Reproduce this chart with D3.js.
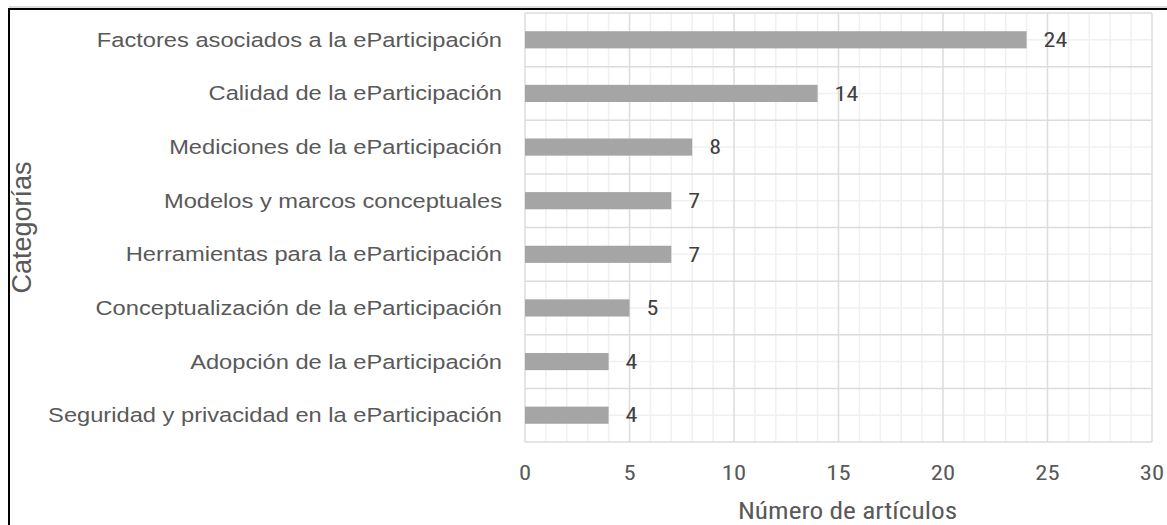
<!DOCTYPE html>
<html>
<head>
<meta charset="utf-8">
<script src="https://cdn.jsdelivr.net/npm/d3@7"></script>
<style>
  html, body { margin: 0; padding: 0; background: #fff; }
  svg { display: block; }
</style>
</head>
<body>
<svg id="chart" width="1167" height="525"></svg>
<script>
const categories = [
  "Factores asociados a la eParticipación",
  "Calidad de la eParticipación",
  "Mediciones de la eParticipación",
  "Modelos y marcos conceptuales",
  "Herramientas para la eParticipación",
  "Conceptualización de la eParticipación",
  "Adopción de la eParticipación",
  "Seguridad y privacidad en la eParticipación"
];
const values = [24, 14, 8, 7, 7, 5, 4, 4];
const xTicks = [0, 5, 10, 15, 20, 25, 30];
const xTitle = "Número de artículos";
const yTitle = "Categorías";

const svg = d3.select("#chart");
const W = 1167, H = 525;
const plot = { left: 525, right: 1152, top: 13, bottom: 442 };
const NUM_FONT = "'Liberation Sans Narrow', 'Roboto Condensed', 'Liberation Sans', sans-serif";
const LBL_FONT = "'Liberation Sans', Arial, sans-serif";
const SX = 1.19; // horizontal stretch of the reference text

// outer frame (left + top visible)
svg.append("line").attr("x1", 9).attr("x2", W + 5).attr("y1", 7).attr("y2", 7)
  .attr("stroke", "#bbb").attr("stroke-width", 1);
svg.append("rect").attr("x", 9).attr("y", 9).attr("width", W + 20).attr("height", H + 20)
  .attr("fill", "none").attr("stroke", "#000").attr("stroke-width", 2);

const x = d3.scaleLinear().domain([0, 30]).range([plot.left, plot.right]);
const y = d3.scaleBand().domain(categories).range([plot.top, plot.bottom]).paddingInner(0).paddingOuter(0);
const barPad = 0.68;

const g = svg.append("g");

// minor vertical gridlines (every 1)
g.append("g").selectAll("line").data(d3.range(0, 31, 1).filter(v => v % 5 !== 0))
  .join("line")
  .attr("x1", d => x(d)).attr("x2", d => x(d))
  .attr("y1", plot.top).attr("y2", plot.bottom)
  .attr("stroke", "#f0f0f0").attr("stroke-width", 1.5);

// minor horizontal gridlines (category centers)
g.append("g").selectAll("line").data(categories)
  .join("line")
  .attr("x1", plot.left).attr("x2", plot.right)
  .attr("y1", d => y(d) + y.bandwidth() / 2).attr("y2", d => y(d) + y.bandwidth() / 2)
  .attr("stroke", "#f0f0f0").attr("stroke-width", 1.5);

// major vertical gridlines
g.append("g").selectAll("line").data(xTicks)
  .join("line")
  .attr("x1", d => x(d)).attr("x2", d => x(d))
  .attr("y1", plot.top).attr("y2", plot.bottom)
  .attr("stroke", "#dcdcdc").attr("stroke-width", 1.5);

// major horizontal gridlines (category boundaries)
const bounds = categories.map(c => y(c)).concat([plot.bottom]);
g.append("g").selectAll("line").data(bounds)
  .join("line")
  .attr("x1", plot.left).attr("x2", plot.right)
  .attr("y1", d => d).attr("y2", d => d)
  .attr("stroke", "#dcdcdc").attr("stroke-width", 1.5);

// bars
const bh = y.bandwidth() * (1 - barPad);
g.append("g").selectAll("rect").data(values)
  .join("rect")
  .attr("x", x(0))
  .attr("y", (d, i) => y(categories[i]) + (y.bandwidth() - bh) / 2)
  .attr("width", d => x(d) - x(0))
  .attr("height", bh)
  .attr("fill", "#a5a5a5");

// value labels
g.append("g").selectAll("text").data(values)
  .join("text")
  .attr("transform", (d, i) => `translate(${x(d) + 17}, ${y(categories[i]) + y.bandwidth() / 2}) scale(1.2,1)`)
  .attr("dy", "0.36em")
  .attr("font-family", NUM_FONT)
  .attr("font-size", 20)
  .attr("fill", "#404040")
  .text(d => d);

// category labels
g.append("g").selectAll("text").data(categories)
  .join("text")
  .attr("transform", d => `translate(${plot.left - 23}, ${y(d) + y.bandwidth() / 2}) scale(${SX},1)`)
  .attr("dy", "0.35em")
  .attr("text-anchor", "end")
  .attr("font-family", LBL_FONT)
  .attr("font-size", 19.9)
  .attr("fill", "#595959")
  .text(d => d);

// x tick labels
g.append("g").selectAll("text").data(xTicks)
  .join("text")
  .attr("transform", d => `translate(${x(d)}, 480) scale(1.2,1)`)
  .attr("text-anchor", "middle")
  .attr("font-family", NUM_FONT)
  .attr("font-size", 20.5)
  .attr("fill", "#595959")
  .text(d => d);

// x title
svg.append("text")
  .attr("transform", `translate(${(plot.left + plot.right) / 2 + 9}, 519) scale(1.14,1)`)
  .attr("text-anchor", "middle")
  .attr("font-family", NUM_FONT)
  .attr("font-size", 24)
  .attr("fill", "#595959")
  .text(xTitle);

// y title
svg.append("text")
  .attr("transform", `translate(31, ${(plot.top + plot.bottom) / 2}) rotate(-90)`)
  .attr("text-anchor", "middle")
  .attr("font-family", LBL_FONT)
  .attr("font-size", 27)
  .attr("fill", "#595959")
  .text(yTitle);
</script>
</body>
</html>
